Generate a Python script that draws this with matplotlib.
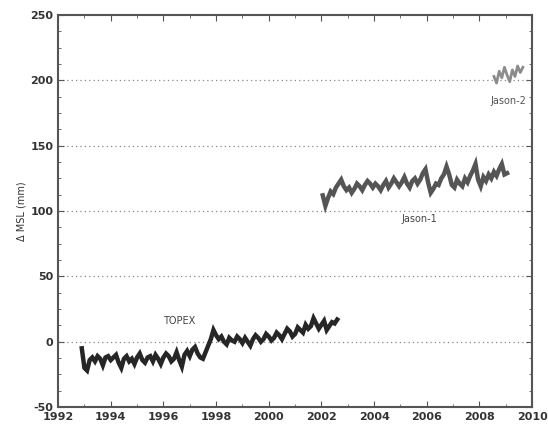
import numpy as np
import matplotlib.pyplot as plt
from matplotlib.ticker import MultipleLocator, AutoMinorLocator

plt.rcParams['axes.unicode_minus'] = False

# values, ~0.1 yr cadence
topex_start, topex_step = 1992.9, 0.1
topex_msl = [-5, -20, -22, -14, -12, -15, -11, -13, -18, -12,
             -11, -14, -12, -10, -16, -20, -13, -11, -15, -13,
             -17, -12, -9, -14, -16, -12, -11, -15, -10, -13,
             -17, -12, -9, -11, -15, -13, -8, -14, -19, -10,
             -7, -11, -6, -4, -9, -12, -13, -8, -3, 2,
             9, 5, 2, 4, 0, -2, 3, 1, 0, 4,
             2, -1, 3, 0, -3, 2, 5, 3, 0, 2,
             6, 4, 1, 3, 7, 5, 2, 6, 10, 8,
             4, 6, 11, 9, 7, 13, 10, 12, 18, 14,
             10, 13, 16, 9, 12, 15, 14, 17]

jason1_start, jason1_step = 2002.05, 0.1
jason1_msl = [112, 104, 110, 115, 113, 118, 121, 124, 119, 116,
              118, 114, 117, 121, 119, 116, 120, 123, 121, 118,
              121, 119, 116, 120, 123, 118, 121, 125, 122, 119,
              122, 126, 121, 118, 123, 125, 121, 124, 129, 132,
              122, 114, 117, 121, 120, 125, 128, 134, 128, 120,
              118, 124, 121, 119, 125, 122, 127, 131, 136, 124,
              119, 126, 123, 128, 125, 130, 127, 132, 136, 128,
              129]

jason2_start, jason2_step = 2008.55, 0.1
jason2_msl = [203, 198, 207, 202, 210, 204, 199, 208, 203, 211, 206, 210]

def years(start, step, vals):
    return start + step * np.arange(len(vals))

fig = plt.figure(figsize=(5.48, 4.29), dpi=100)
ax = fig.add_axes([0.106, 0.051, 0.865, 0.914])

ax.plot(years(topex_start, topex_step, topex_msl), topex_msl,
        color='#262626', lw=3.2, solid_joinstyle='miter')
ax.plot(years(jason1_start, jason1_step, jason1_msl), jason1_msl,
        color='#555555', lw=3.2, solid_joinstyle='miter')
ax.plot(years(jason2_start, jason2_step, jason2_msl), jason2_msl,
        color='#8c8c8c', lw=2.0)

ax.text(1996.6, 16, 'TOPEX', fontsize=7, color='#444', ha='center', va='center')
ax.text(2005.7, 94, 'Jason-1', fontsize=7, color='#444', ha='center', va='center')
ax.text(2009.8, 184, 'Jason-2', fontsize=7, color='#555', ha='right', va='center')

ax.set_xlim(1992, 2010)
ax.set_ylim(-50, 250)
ax.xaxis.set_major_locator(MultipleLocator(2))
ax.xaxis.set_minor_locator(AutoMinorLocator(2))
ax.yaxis.set_major_locator(MultipleLocator(50))
ax.yaxis.set_minor_locator(AutoMinorLocator(4))
ax.tick_params(which='both', direction='in', top=True, right=True,
               colors='#555', labelcolor='#333', labelsize=8)
ax.tick_params(which='major', length=4)
ax.tick_params(which='minor', length=2)
for lbl in ax.get_xticklabels() + ax.get_yticklabels():
    lbl.set_fontweight('bold')
for sp in ax.spines.values():
    sp.set_edgecolor('#555'); sp.set_linewidth(1.5)

for yv in [0, 50, 100, 150, 200]:
    ax.axhline(yv, color='#888', lw=0.9, ls=(0, (1, 2.5)), zorder=0)

ax.set_ylabel('\u0394 MSL (mm)', fontsize=7, color='#333', labelpad=3)

fig.savefig('out.png', dpi=100, facecolor='white')
